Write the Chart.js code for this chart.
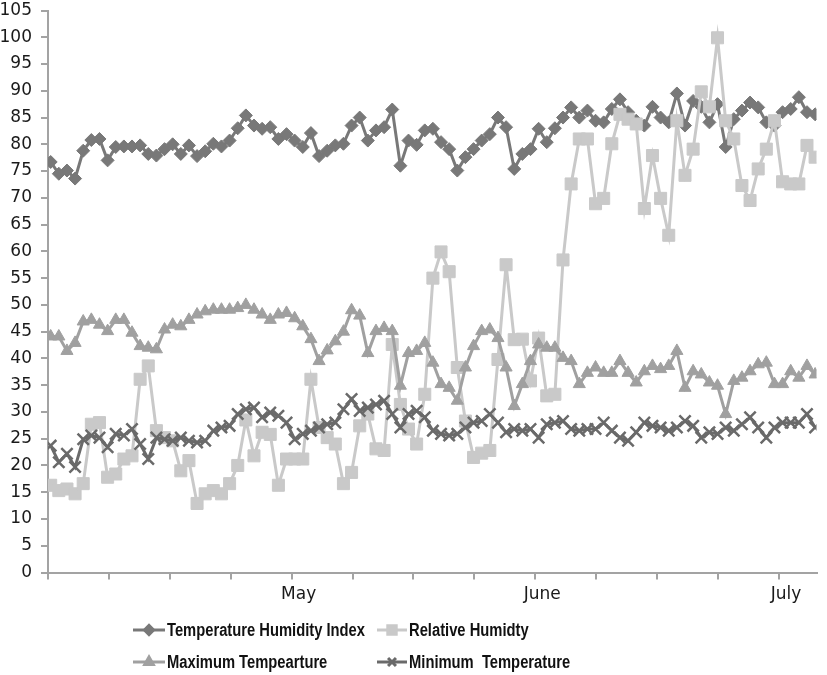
<!DOCTYPE html>
<html><head><meta charset="utf-8">
<style>html,body{margin:0;padding:0;background:#fff}#wrap{width:827px;height:675px}</style>
<script src="https://cdn.jsdelivr.net/npm/chart.js"></script>
</head><body><div id="wrap"><canvas id="c" width="827" height="675"></canvas></div>
<script>
// ---- data ----
const seriesNames = ['Temperature Humidity Index', 'Relative Humidty', 'Maximum Tempearture', 'Minimum  Temperature'];
const thi = [76.7,74.5,75.1,73.6,78.8,80.8,81,77,79.5,79.6,
 79.6,79.8,78.2,77.9,79.1,80,78.2,79.8,77.8,78.7,
 80.1,79.6,80.7,83,85.4,83.5,82.9,83.2,81,81.9,
 80.7,79.5,82.1,77.8,78.8,79.8,80.1,83.5,85,80.7,
 82.6,83.2,86.5,76,80.7,79.9,82.6,82.9,80.4,79.1,
 75.1,77.6,79.1,80.7,81.9,85,83.2,75.4,78.2,79.1,
 82.9,80.4,83,85,86.9,85,86.3,84.4,84.1,86.6,
 88.4,86,84.4,83.5,87,85,84.1,89.5,83.5,88.1,
 87,84.1,87.5,79.5,84.7,86.3,87.8,86.9,84.1,83.5,
 86,86.6,88.8,86,85.6];
const relHumidity = [16.3,15.3,15.6,14.7,16.6,27.7,28,17.8,18.4,21.2,
 21.8,36.1,38.6,26.5,25.2,24.6,19,20.9,12.9,14.7,
 15.3,14.7,16.6,20,28.5,21.8,26.2,25.8,16.3,21.2,
 21.2,21.2,36.1,27.1,25.2,24,16.6,18.7,27.4,29.6,
 23.1,22.8,42.6,31.4,26.8,24,33.3,55,59.9,56.2,
 38.3,28.3,21.5,22.3,22.8,39.8,57.5,43.5,43.6,35.8,
 43.8,33,33.3,58.4,72.6,81,81,68.9,69.9,80.1,
 85.6,84.7,83.8,68,77.9,69.9,63,84.4,74.2,79.1,
 89.8,87,99.9,84.4,81,72.3,69.5,75.4,79.1,84.4,
 73,72.6,72.6,79.8,77.6];
const maxTemp = [44.1,44.1,41.4,42.9,46.9,47.2,46.3,45.1,47.2,47.2,
 44.8,42.3,42,41.7,45.4,46.3,46,47.2,48.2,48.8,
 49.1,49.1,49.1,49.4,50,49.1,48.2,47.2,48.2,48.5,
 47.5,46,43.6,39.5,41.5,43.2,45,49,48,41,
 45.1,45.7,45.1,34.9,41,41.4,42.9,39.2,35.2,34.5,
 32.1,38.3,42.3,45.1,45.4,43.8,38.3,31.1,35.2,39.5,
 42.6,42,42,40.1,39.5,35.2,37.3,38.3,37.3,37.3,
 39.5,37.3,35.5,37.6,38.6,38,38.6,41.4,34.5,37.6,
 37,35.5,34.9,29.6,35.8,36.4,37.6,38.9,39.2,35.2,
 35.2,37.6,36.4,38.6,37];
const minTemp = [23.7,20.6,22.2,19.7,24.9,25.6,25.2,23.4,25.9,25.6,
 26.8,24,21.2,25.2,24.9,24.6,25.2,24.6,24.3,24.6,
 26.5,27.1,27.4,29.6,30.5,30.8,29,29.9,29.3,28,
 24.9,25.9,26.5,27.1,27.7,28,30.5,32.4,30.2,30.8,
 31.4,32.1,29.6,27.1,29.6,30.2,29,26.5,25.9,25.6,
 25.9,27.1,28,28.3,29.6,28,26.2,26.8,26.5,26.8,
 25.2,27.7,28,28.3,26.8,26.5,26.8,26.8,28,26.5,
 25.2,24.6,26.2,28,27.4,27.1,26.5,27.1,28.3,27.4,
 25.2,26.2,25.9,27.1,26.5,27.7,29,27.1,25.2,27.1,
 28,28,28,29.6,27.1];
const xTickLabels = ['', '', '', '', 'May', '', '', '', 'June', '', '', '', 'July'];

// ---- config ----
const X_MIN = -0.33, X_MAX = 94.17, X_TICK_STEP = 7.49;
const toXY = arr => arr.map((v, i) => ({x: i, y: v}));
const styles = [
  {color:'#787878', point:'rectRot', r:6.5, bw:1, order:3},
  {color:'#c9c9c9', point:'rect', r:8.5, bw:1, order:2},
  {color:'#a0a0a0', point:'triangle', r:7, bw:1, order:1},
  {color:'#6a6a6a', point:'crossRot', r:8, bw:2.5, order:0}
];
const allSeries = [thi, relHumidity, maxTemp, minTemp];
const datasets = allSeries.map((arr, k) => ({
  label: seriesNames[k], data: toXY(arr),
  borderColor: styles[k].color, backgroundColor: styles[k].color,
  borderWidth: 3, pointStyle: styles[k].point, pointRadius: styles[k].r,
  pointBorderWidth: styles[k].bw, pointBorderColor: styles[k].color,
  pointBackgroundColor: styles[k].color, order: styles[k].order, tension: 0
}));

const legendLayout = [
  {x1:133, x2:165, y:630, tx:167},
  {x1:377, x2:407, y:630, tx:409},
  {x1:133, x2:165, y:662, tx:167},
  {x1:377, x2:407, y:662, tx:409}
];
const legendPlugin = {
  id: 'customLegend',
  afterDraw(chart) {
    const ctx = chart.ctx;
    ctx.save();
    ctx.font = 'bold 18px "Liberation Sans Narrow", "Liberation Sans", Arial, sans-serif';
    const sx = 198 / ctx.measureText(seriesNames[0]).width;
    legendLayout.forEach((L, k) => {
      const st = styles[k];
      ctx.strokeStyle = st.color; ctx.lineWidth = 3;
      ctx.beginPath(); ctx.moveTo(L.x1, L.y); ctx.lineTo(L.x2, L.y); ctx.stroke();
      ctx.fillStyle = st.color;
      Chart.helpers.drawPoint(ctx, {pointStyle: st.point, radius: st.r * 0.7, borderWidth: st.bw, rotation: 0}, (L.x1 + L.x2) / 2, L.y);
      ctx.save();
      ctx.translate(L.tx, L.y);
      ctx.scale(sx, 1);
      ctx.fillStyle = '#111';
      ctx.textBaseline = 'middle';
      ctx.textAlign = 'left';
      ctx.fillText(seriesNames[k], 0, 1);
      ctx.restore();
    });
    ctx.restore();
  }
};

const axisGray = '#a3a3a3';
const tickFont = { family: '"DejaVu Sans", sans-serif', size: 17 };
new Chart(document.getElementById('c'), {
  type: 'line',
  data: { datasets },
  plugins: [legendPlugin],
  options: {
    responsive: false, animation: false,
    layout: { padding: { top: 7.5, right: 7, left: 0, bottom: 0 } },
    plugins: { legend: { display: false }, tooltip: { enabled: false } },
    scales: {
      x: {
        type: 'linear', min: X_MIN, max: X_MAX,
        afterBuildTicks: (axis) => {
          axis.ticks = xTickLabels.map((_, k) => ({ value: X_MIN + k * X_TICK_STEP }));
        },
        afterFit: (scale) => { scale.height = 102.5; scale.paddingLeft = 0; scale.paddingRight = 0; },
        ticks: {
          autoSkip: false, maxRotation: 0, minRotation: 0, labelOffset: 7, padding: 5,
          color: '#1a1a1a', font: tickFont,
          callback: (v, i) => xTickLabels[i] || ''
        },
        grid: { drawOnChartArea: false, drawTicks: true, tickLength: 7, color: axisGray, lineWidth: 2 },
        border: { display: true, color: axisGray, width: 2 }
      },
      y: {
        min: 0, max: 105,
        afterFit: (scale) => { scale.width = 48; scale.paddingTop = 0; scale.paddingBottom = 0; },
        ticks: {
          stepSize: 5, padding: 9, color: '#1a1a1a',
          font: { family: '"DejaVu Sans", sans-serif', size: 17 }
        },
        grid: { drawOnChartArea: false, drawTicks: true, tickLength: 7, color: axisGray, lineWidth: 2 },
        border: { display: true, color: axisGray, width: 2 }
      }
    }
  }
});
</script>
</body></html>
